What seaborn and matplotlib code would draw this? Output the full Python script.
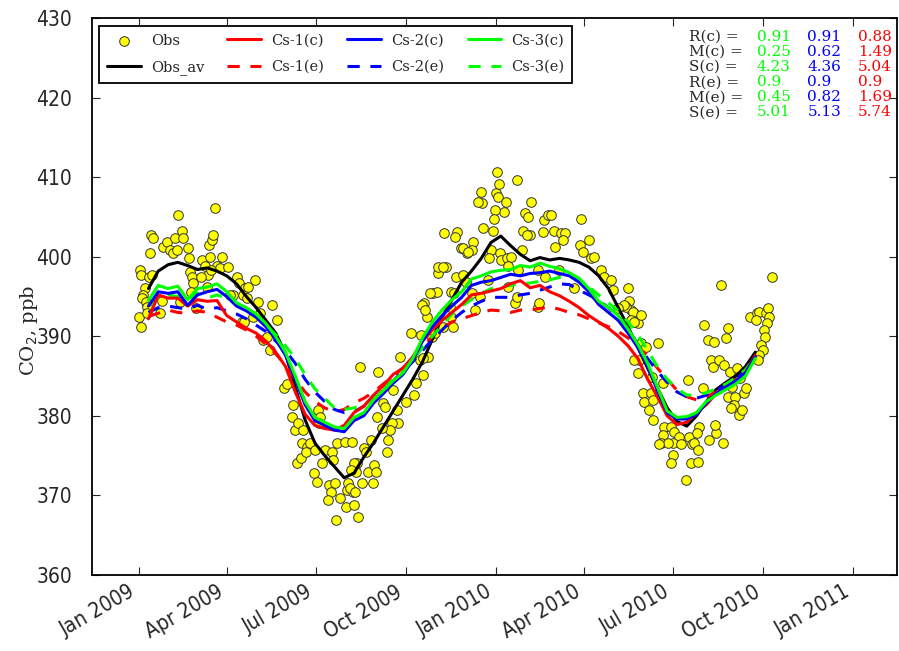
import numpy as np
import pandas as pd
import matplotlib
matplotlib.use('Agg')
import matplotlib.pyplot as plt
import seaborn as sns

sns.set_style('ticks')
plt.rcParams['font.family'] = ['DejaVu Serif']
plt.rcParams['xtick.direction'] = 'in'
plt.rcParams['ytick.direction'] = 'in'
plt.rcParams['xtick.top'] = True
plt.rcParams['ytick.right'] = True

# observed CO2, days since 2009-01-01
obs_day = [1, 2, 6, 4, 3, 7, 8, 0, 2, 9, 11, 14, 13, 15, 12, 24, 22, 25, 29, 32,
           35, 39, 37, 44, 40, 45, 50, 51, 52, 54, 55, 53, 42, 59, 65, 68, 73, 72, 75, 76,
           78, 85, 80, 83, 71, 64, 70, 74, 91, 100, 103, 109, 107, 111, 106, 96, 93,
           119, 112, 122, 136, 108, 117, 124, 141, 127, 134, 131, 148, 152, 158, 157, 160,
           163, 168, 167, 172, 162, 166, 171, 175, 180, 183, 185, 184, 179, 182, 187, 190,
           198, 203, 211, 199, 194, 196, 201, 193, 206, 213, 214, 221, 223, 219, 212, 224,
           202, 226,
           245, 267, 278, 288, 296, 290, 283, 281, 273, 260, 250, 252, 244, 264, 265, 259,
           257, 249, 255, 254, 237, 230, 232, 220, 222, 234, 240, 242, 228, 239, 216, 221,
           220, 218, 217, 287, 291, 295, 292, 289, 293, 301, 305, 306, 314, 319, 322, 324,
           331, 334, 300, 303, 311, 312, 325, 323, 329, 335, 342, 341, 352, 351, 347, 350,
           365, 367, 368, 366, 375, 373, 364, 363, 362, 360, 358, 369, 370, 376, 380, 387,
           392, 393, 395, 398, 401, 400, 414, 418, 424, 431, 436, 434, 425, 413, 452, 421,
           397, 377, 388, 408, 415, 429, 445, 451, 454, 460, 462, 465, 472, 475, 483, 485,
           500, 501, 503, 498, 506, 510, 531, 516, 511, 298, 306, 311, 331, 336, 319, 318,
           321, 344, 341, 349, 357, 385, 387, 408, 409, 377,
           496, 490, 505, 513, 503, 506, 513, 518, 506, 510, 524, 515, 516, 523, 526, 521,
           536, 525, 537, 536, 544, 547, 552, 546, 554, 562, 565, 572, 570, 567, 534, 541,
           532, 571, 583, 590, 597, 589, 546, 544, 564, 571, 559, 561, 578, 582, 588, 600,
           602, 595, 577, 585, 587, 593, 598, 604, 606, 611, 602, 609, 608, 605, 613, 616,
           618, 621, 614, 625, 632, 634, 641, 643, 644, 642, 639, 640, 636, 638, 634, 633,
           647, 631]
obs_co2 = [398.3, 397.7, 396.1, 395.2, 394.8, 394.3, 393.7, 392.4, 391.2, 392.9, 397.4, 397.7,
           402.7, 402.3, 400.5, 394.5, 392.9, 401.2, 401.8, 400.8, 400.5, 400.8, 402.3, 403.3,
           405.2, 402.3, 401.1, 399.8, 398.1, 397.4, 396.7, 395.6, 394.3, 393.5, 399.6, 398.9,
           400.0, 401.5, 402.1, 402.7, 406.1, 400.0, 398.9, 398.6, 397.7, 397.4, 396.2, 398.3,
           398.7, 397.4, 396.7, 396.1, 395.2, 394.8, 391.8, 395.2, 395.2,
           397.1, 396.2, 394.3, 393.9, 391.8, 392.4, 392.9, 392.0, 389.5, 388.3, 389.9, 383.5,
           384.0, 381.4, 379.8, 378.2, 379.1, 378.2, 376.6, 376.1, 374.1, 374.7, 375.4, 376.6,
           375.7, 380.7, 379.8, 379.1, 372.8, 371.7, 374.1, 375.7, 375.4, 376.6, 376.7, 374.4,
           371.3, 370.4, 371.5, 369.4, 369.7, 370.7, 371.5, 373.2, 374.1, 370.4, 368.5, 367.3,
           366.9, 386.1,
           385.5, 387.4, 390.4, 390.2, 387.4, 385.1, 384.1, 382.6, 381.7, 383.2, 381.6, 381.1,
           379.8, 380.7, 379.1, 379.1, 378.2, 378.5, 377.0, 375.4, 377.0, 376.0, 375.4, 374.1,
           372.9, 372.9, 373.8, 372.9, 371.5, 371.5, 370.9, 370.4, 368.8, 376.7, 373.2, 387.0,
           387.3, 392.4, 394.2, 393.9, 393.3, 395.4, 395.6, 397.9, 398.7, 395.6, 395.4, 397.4,
           397.7, 396.8, 389.9, 390.4, 391.2, 403.0, 403.1, 402.5, 401.1, 400.5, 401.8, 400.8,
           403.6, 406.7, 406.9, 408.1, 408.0, 407.5, 409.2, 410.6, 406.9, 405.6, 405.9, 404.8,
           403.3, 400.8, 399.8, 400.5, 399.6, 399.8, 400.0, 409.6, 400.8, 403.3, 405.5, 405.0,
           406.9, 402.7, 404.6, 405.2, 403.3, 403.0, 403.0, 402.1, 401.2, 403.1, 404.8, 405.2,
           402.7, 398.9, 398.3, 398.3, 397.4, 398.3, 396.1, 401.5, 400.6, 402.1, 399.8, 400.0,
           398.3, 397.4, 397.1, 395.8, 396.1, 394.5, 393.3, 393.7, 392.9, 391.7, 389.1, 388.6,
           387.0, 395.4, 398.7, 398.7, 401.1, 400.6, 392.4, 393.7, 391.2, 393.3, 395.4, 394.9,
           397.1, 394.2, 394.9, 393.7, 394.2, 396.2,
           393.9, 393.5, 393.0, 392.7, 392.0, 391.8, 389.1, 388.6, 387.0, 385.4, 384.9, 382.9,
           381.7, 382.9, 382.0, 380.7, 384.1, 379.5, 378.6, 377.6, 378.6, 378.0, 377.3, 376.6,
           376.4, 377.3, 376.4, 378.6, 377.8, 376.6, 376.6, 376.6, 376.4, 375.7, 377.0, 377.8,
           376.6, 378.8, 375.1, 374.1, 374.1, 374.2, 371.9, 384.5, 391.4, 389.5, 389.3, 389.8,
           391.1, 396.4, 383.5, 387.0, 386.1, 387.0, 386.4, 385.5, 383.6, 386.0, 382.4, 382.4,
           381.4, 381.0, 380.1, 380.7, 382.9, 383.5, 384.7, 392.4, 392.9, 393.0, 392.9, 393.5,
           392.4, 391.7, 390.8, 389.9, 388.9, 388.3, 387.6, 387.0, 397.4, 392.0]

# running means and model series, every 10 days from day 10
line_day = list(range(10, 631, 10))
obs_av = [396.0, 398.2, 399.0, 399.3, 398.9, 398.4, 398.6, 398.2, 397.6, 396.6,
          395.0, 393.6, 392.0, 390.4, 387.8, 383.6, 379.5, 376.6, 375.0, 373.6,
          372.2, 372.8, 374.8, 376.6, 378.6, 380.6, 382.6, 384.6, 386.8, 389.6,
          392.4, 394.6, 396.8, 398.2, 399.8, 401.8, 402.6, 401.4, 400.3, 399.5,
          399.9, 399.6, 399.8, 399.6, 399.3, 398.7, 397.6, 396.0, 393.6, 391.2,
          388.6, 386.0, 383.5, 381.0, 379.3, 378.7, 380.0, 381.8, 383.3, 384.2,
          385.0, 386.2, 388.0]
cs1_c = [392.2, 395.2, 394.8, 394.8, 393.8, 394.6, 394.4, 394.5, 392.6, 391.8,
         391.0, 390.4, 389.4, 388.0, 386.2, 383.0, 380.2, 378.8, 378.4, 378.2,
         378.8, 380.4, 381.2, 382.6, 383.8, 385.2, 386.0, 387.4, 389.4, 390.8,
         392.0, 393.0, 394.0, 395.2, 395.4, 395.7, 396.0, 396.6, 397.0, 396.1,
         396.4, 395.6, 395.1, 394.4, 393.6, 392.6, 391.8, 391.0, 390.0, 388.8,
         387.2, 384.6, 382.4, 380.0, 378.9, 379.2, 380.4, 381.4, 382.8, 383.6,
         384.3, 385.4, 387.6]
cs1_e = [392.5, 392.9, 393.3, 393.0, 392.9, 393.2, 393.0, 392.4, 391.8, 391.4,
         390.8, 390.0, 389.0, 387.8, 386.4, 384.6, 383.0, 381.8, 381.0, 380.5,
         380.8, 381.6, 382.2, 383.0, 384.0, 385.0, 386.0, 387.2, 388.6, 390.0,
         391.0, 391.8, 392.2, 392.6, 393.0, 393.3, 393.2, 393.0, 393.3, 393.3,
         393.5, 393.7, 393.4, 393.0, 392.7, 392.2, 391.7, 391.2, 390.6, 389.8,
         388.6, 387.6, 386.0, 384.6, 383.2, 382.4, 382.0, 382.4, 383.0, 383.8,
         384.6, 385.6, 387.4]
cs2_c = [393.8, 395.6, 395.4, 395.6, 393.9, 395.2, 395.6, 395.9, 395.0, 393.8,
         393.2, 392.4, 391.2, 389.6, 387.6, 384.6, 381.4, 379.4, 378.8, 378.2,
         378.0, 379.4, 380.0, 381.6, 382.8, 384.1, 385.2, 387.0, 389.4, 391.2,
         392.6, 393.8, 394.9, 396.4, 396.8, 397.0, 397.4, 397.8, 397.6, 397.9,
         398.0, 398.2, 397.9, 397.6, 396.8, 395.6, 394.0, 393.0, 392.0, 390.4,
         388.6, 386.2, 383.2, 380.4, 379.6, 379.6, 380.2, 381.6, 382.8, 383.6,
         384.4, 385.4, 387.4]
cs2_e = [393.0, 393.6, 393.8, 393.6, 393.4, 393.9, 393.4, 393.6, 393.2, 392.8,
         392.2, 391.4, 390.6, 389.4, 388.2, 386.6, 384.6, 383.0, 381.8, 380.8,
         380.4, 380.5, 381.2, 382.0, 383.2, 384.4, 385.6, 386.8, 388.2, 389.6,
         390.8, 392.0, 393.0, 393.8, 394.4, 394.9, 394.9, 394.9, 395.2, 395.4,
         395.8, 396.2, 396.6, 396.5, 395.8, 395.2, 394.5, 393.6, 392.4, 391.0,
         389.0, 387.2, 385.6, 384.2, 383.0, 382.4, 382.2, 382.6, 383.2, 383.8,
         384.6, 385.6, 387.2]
cs3_c = [394.5, 396.4, 396.0, 396.3, 394.6, 396.0, 396.2, 396.6, 395.6, 394.2,
         393.6, 392.8, 391.6, 390.0, 388.0, 385.0, 381.8, 379.8, 379.2, 378.6,
         378.4, 379.8, 380.4, 382.0, 383.2, 384.4, 385.4, 387.2, 389.8, 391.8,
         393.3, 394.6, 395.6, 397.2, 397.6, 398.1, 398.3, 398.4, 398.9, 398.7,
         399.2, 398.8, 398.5, 398.0, 397.3, 396.0, 394.4, 393.6, 392.6, 390.9,
         389.0, 386.6, 383.6, 380.6, 379.8, 379.9, 380.4, 381.8, 382.6, 383.3,
         384.0, 385.0, 387.2]
cs3_e = [393.8, 394.8, 395.2, 395.0, 394.6, 395.4, 394.8, 395.2, 394.8, 394.0,
         393.2, 392.4, 391.4, 390.2, 388.8, 387.2, 385.2, 383.4, 382.2, 381.0,
         380.8, 381.0, 381.4, 382.2, 383.4, 384.6, 385.8, 387.0, 388.6, 390.0,
         391.4, 392.8, 393.8, 394.6, 395.4, 396.0, 396.2, 396.4, 396.6, 396.7,
         396.9, 397.1, 397.4, 397.6, 397.0, 396.2, 395.2, 394.2, 393.2, 391.8,
         390.2, 388.2, 386.2, 384.6, 383.4, 382.6, 382.6, 382.9, 383.4, 384.0,
         384.8, 385.8, 387.4]

stat_names = ['R(c) =', 'M(c) =', 'S(c) =', 'R(e) =', 'M(e) =', 'S(e) =']
stat_cs3 = ['0.91', '0.25', '4.23', '0.9', '0.45', '5.01']
stat_cs2 = ['0.91', '0.62', '4.36', '0.9', '0.82', '5.13']
stat_cs1 = ['0.88', '1.49', '5.04', '0.9', '1.69', '5.74']

t0 = pd.Timestamp('2009-01-01')
obs = pd.DataFrame({'date': t0 + pd.to_timedelta(obs_day, unit='D'), 'co2': obs_co2})
lines = pd.DataFrame({'date': t0 + pd.to_timedelta(line_day, unit='D'),
                      'Obs_av': obs_av, 'Cs-1(c)': cs1_c, 'Cs-1(e)': cs1_e,
                      'Cs-2(c)': cs2_c, 'Cs-2(e)': cs2_e,
                      'Cs-3(c)': cs3_c, 'Cs-3(e)': cs3_e})

fig = plt.figure(figsize=(8.99, 6.51), dpi=100)
ax = fig.add_axes([0.102, 0.117, 0.896, 0.855])

sns.scatterplot(data=obs, x='date', y='co2', color='yellow', edgecolor='#333333',
                linewidth=0.7, s=48, ax=ax, zorder=2, label='Obs')
sns.lineplot(data=lines, x='date', y='Obs_av', color='k', lw=2.2, ax=ax, zorder=3, label='Obs_av')

styles = [('Cs-1(e)', 'r', True), ('Cs-2(e)', 'b', True), ('Cs-3(e)', 'lime', True),
          ('Cs-1(c)', 'r', False), ('Cs-2(c)', 'b', False), ('Cs-3(c)', 'lime', False)]
for name, col, dashed in styles:
    sns.lineplot(data=lines, x='date', y=name, color=col, lw=2.2, ax=ax, zorder=4, label=name)
    if dashed:
        ax.lines[-1].set_dashes([4, 3.5])

ax.set_ylim(360, 430)
ax.set_xlim(pd.Timestamp('2008-11-14'), pd.Timestamp('2011-02-15'))
ax.set_yticks(np.arange(360, 431, 10))
ticks = pd.date_range('2009-01-01', '2011-01-01', freq='QS')
ax.set_xticks(ticks)
ax.set_xticklabels([d.strftime('%b %Y') for d in ticks], rotation=30, ha='right')
for lab in ax.get_xticklabels() + ax.get_yticklabels():
    lab.set_family(['DejaVu Sans'])
    lab.set_stretch('condensed')
    lab.set_fontsize(15)
ax.tick_params(length=6, width=0.8, pad=5)
ax.tick_params(axis='y', pad=14)
ax.set_xlabel('')
ax.set_ylabel('CO$_2$, ppb', fontsize=14)
ax.yaxis.set_label_coords(-0.064, 0.44)
for sp in ax.spines.values():
    sp.set_linewidth(1.3)
    sp.set_color('k')

handles, labels = ax.get_legend_handles_labels()
hmap = dict(zip(labels, handles))
order = ['Obs', 'Obs_av', 'Cs-1(c)', 'Cs-1(e)', 'Cs-2(c)', 'Cs-2(e)', 'Cs-3(c)', 'Cs-3(e)']
leg = ax.legend([hmap[k] for k in order], order, loc='upper left', ncol=4,
                fontsize=10.5, fancybox=False, framealpha=1, edgecolor='k',
                handlelength=2.3, handletextpad=0.7, columnspacing=1.6,
                borderaxespad=0.5, labelspacing=0.85, borderpad=0.55, scatterpoints=1)
leg.get_frame().set_linewidth(1.3)

# statistics block
y0 = 0.954
for i in range(len(stat_names)):
    y = y0 - i * 0.0232
    fig.text(0.766, y, stat_names[i], fontsize=11, va='top')
    fig.text(0.842, y, stat_cs3[i], fontsize=11, va='top', color='lime')
    fig.text(0.898, y, stat_cs2[i], fontsize=11, va='top', color='b')
    fig.text(0.954, y, stat_cs1[i], fontsize=11, va='top', color='r')

fig.savefig('out.png', dpi=100)
